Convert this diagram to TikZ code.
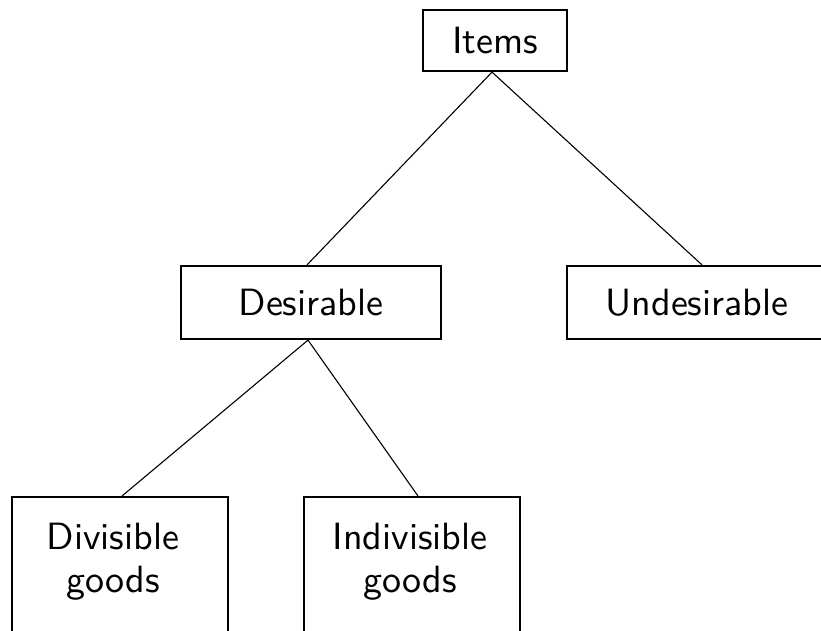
\documentclass[tikz,border=0pt]{standalone}
\usetikzlibrary{calc}
\begin{document}
\begin{tikzpicture}[x=1pt,y=-1pt,
  box/.style={draw, line width=2.2pt, inner sep=0pt, rectangle},
  lbl/.style={font=\sffamily\fontsize{10}{11.4}\selectfont, scale=3.8, align=center, inner sep=0pt},
  edge/.style={line width=1.1pt}]
\useasboundingbox (0,0) rectangle (821,630);
\clip (0,0) rectangle (821,630);
\node[box, minimum width=144, minimum height=61] (items) at (495,40.5) {};
\node[lbl] (itemst) at (items.center) {Items};
\node[box, minimum width=260, minimum height=73] (des) at (311,302.5) {};
\node[lbl] (dest) at (des.center) {Desirable};
\node[box, minimum width=290, minimum height=73] (undes) at (712,302.5) {};
\node[lbl] (undest) at (697,302.5) {Undesirable};
\node[box, anchor=north, minimum width=216, minimum height=200] (div) at (120,496) {};
\node[lbl] (divt) at (113,562) {Divisible\\goods};
\node[box, anchor=north, minimum width=216, minimum height=200] (indiv) at (412,496) {};
\node[lbl] (indivt) at (410,562) {Indivisible\\goods};
\draw[edge] ($(items.south)+(-3,0)$) -- ($(des.north)+(-4,0)$);
\draw[edge] ($(items.south)+(-3,0)$) -- ($(undes.north)+(-10,0)$);
\draw[edge] ($(des.south)+(-3,0)$) -- ($(div.north)+(2,0)$);
\draw[edge] ($(des.south)+(-3,0)$) -- ($(indiv.north)+(6,0)$);
\end{tikzpicture}
\end{document}
